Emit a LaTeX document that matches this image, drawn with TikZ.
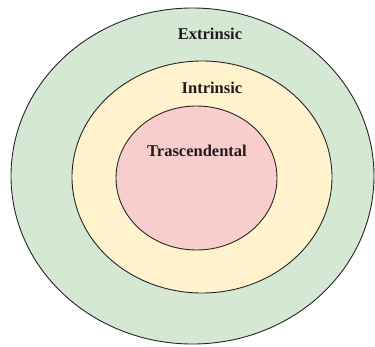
\documentclass[tikz,border=0pt]{standalone}
\usepackage{fontspec}
\setmainfont{Liberation Serif}
\definecolor{gfill}{HTML}{D5E8D4}
\definecolor{yfill}{HTML}{FFF2CC}
\definecolor{pfill}{HTML}{F8CECC}
\definecolor{txt}{HTML}{231A1E}
\begin{document}
\begin{tikzpicture}[x=1pt,y=-1pt,
  ring/.style={draw=black!85,line width=0.9pt},
  lbl/.style={font=\fontsize{16.5}{18}\selectfont\bfseries,text=txt}]
\useasboundingbox (0,0) rectangle (375,346);
\fill[white] (0,0) rectangle (375,346);
\draw[ring,fill=gfill] (192.5,176) ellipse [x radius=181.5,y radius=168];
\draw[ring,fill=yfill] (202,177) ellipse [x radius=130,y radius=116];
\draw[ring,fill=pfill] (196.5,178) ellipse [x radius=80.5,y radius=72];
\node[lbl] (ext) at (210,34) {Extrinsic};
\node[lbl] (int) at (212,88) {Intrinsic};
\node[lbl] (tra) at (197,151) {Trascendental};
\end{tikzpicture}
\end{document}
